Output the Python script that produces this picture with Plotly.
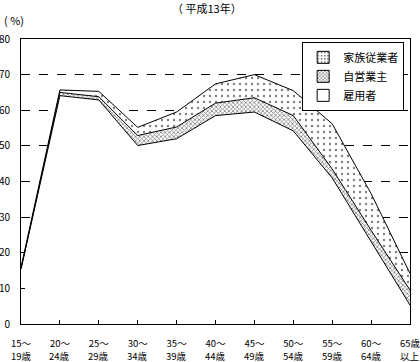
import plotly.graph_objects as go

categories = ["15～19歳", "20～24歳", "25～29歳", "30～34歳", "35～39歳", "40～44歳",
              "45～49歳", "50～54歳", "55～59歳", "60～64歳", "65歳以上"]
tick_line1 = ["15～", "20～", "25～", "30～", "35～", "40～", "45～", "50～", "55～", "60～", "65歳"]
tick_line2 = ["19歳", "24歳", "29歳", "34歳", "39歳", "44歳", "49歳", "54歳", "59歳", "64歳", "以上"]
employees = [15.4, 64.1, 62.9, 50.1, 52.0, 58.5, 59.5, 54.2, 41.0, 23.0, 5.3]
self_employed = [0.1, 0.9, 0.9, 2.8, 3.3, 3.5, 4.0, 4.3, 2.5, 3.3, 4.2]
family_workers = [0.4, 0.7, 1.5, 2.3, 4.2, 5.4, 6.5, 7.0, 12.7, 10.3, 4.7]
series_names = ["雇用者", "自営業主", "家族従業者"]

jp = "Noto Sans CJK JP"
dot_pattern = dict(shape=".", size=6, solidity=0.12, fgcolor="black", bgcolor="white")
hatch_pattern = dict(shape="x", size=3, solidity=0.45, fgcolor="black", bgcolor="white")

fig = go.Figure()
fig.add_trace(go.Scatter(
    x=categories, y=employees, name=series_names[0], mode="lines", stackgroup="one",
    line=dict(color="black", width=1), fillcolor="white", showlegend=False))
fig.add_trace(go.Scatter(
    x=categories, y=self_employed, name=series_names[1], mode="lines", stackgroup="one",
    line=dict(color="black", width=1), fillcolor="white", fillpattern=hatch_pattern,
    showlegend=False))
fig.add_trace(go.Scatter(
    x=categories, y=family_workers, name=series_names[2], mode="lines", stackgroup="one",
    line=dict(color="black", width=1), fillcolor="white", fillpattern=dot_pattern,
    showlegend=False))

# legend-only entries (square swatches)
for name, pat in [(series_names[2], dict(shape=".", size=4, solidity=0.25)),
                  (series_names[1], dict(shape="x", size=3, solidity=0.45)),
                  (series_names[0], None)]:
    marker = dict(color="white", line=dict(color="black", width=1))
    if pat:
        marker["pattern"] = dict(fgcolor="black", bgcolor="white", **pat)
    fig.add_trace(go.Bar(x=[None], y=[None], name=name, marker=marker, showlegend=True))

annotations = [
    dict(text="（ 平成13年）", x=0.478, y=1.109, xref="paper", yref="paper",
         showarrow=False, yanchor="middle", font=dict(size=11, family=jp)),
    dict(text="( %)", x=-0.05, y=1.067, xref="paper", yref="paper", showarrow=False,
         xanchor="left", yanchor="middle", font=dict(size=11, family=jp)),
]
for cat, t2 in zip(categories, tick_line2):
    annotations.append(dict(text=t2, x=cat, xref="x", y=-0.113, yref="paper",
                            showarrow=False, yanchor="middle", borderpad=0,
                            font=dict(size=9.5, family=jp)))

fig.update_layout(
    width=420, height=362,
    margin=dict(l=21, r=10, t=39, b=38),
    paper_bgcolor="white", plot_bgcolor="white",
    font=dict(family=jp, size=10, color="black"),
    showlegend=True,
    legend=dict(x=0.985, y=0.99, xanchor="right", yanchor="top",
                bordercolor="black", borderwidth=1, bgcolor="white",
                traceorder="normal", font=dict(size=11, family=jp),
                itemwidth=30, tracegroupgap=0),
    xaxis=dict(type="category", range=[0, 10], tickmode="array",
               tickvals=categories, ticktext=tick_line1, automargin=False,
               ticks="inside", ticklen=4, tickcolor="black", ticklabelstandoff=11,
               showline=True, linecolor="black", linewidth=1, mirror=True,
               showgrid=False, tickfont=dict(size=9.5, family=jp)),
    yaxis=dict(range=[0, 80], dtick=10, ticks="inside", ticklen=4, tickcolor="black",
               showline=True, linecolor="black", linewidth=1, mirror=True,
               showgrid=True, gridcolor="black", griddash="dash", gridwidth=1,
               zeroline=False, ticklabelstandoff=8, automargin=False,
               tickfont=dict(size=10, family=jp)),
    annotations=annotations,
)

fig.write_html("out.html", config={"displayModeBar": False},
               post_script="document.body.style.margin='0';")
